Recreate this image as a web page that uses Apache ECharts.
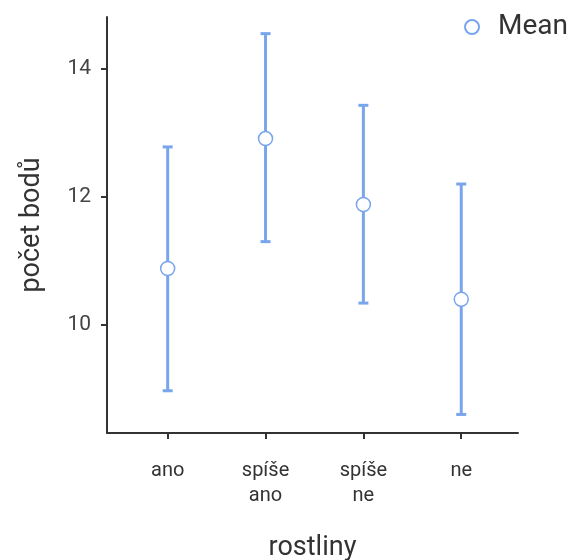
<!DOCTYPE html>
<html>
<head>
<meta charset="utf-8">
<script src="https://cdn.jsdelivr.net/npm/echarts@6/dist/echarts.min.js"></script>
<style>
  html, body { margin: 0; padding: 0; background: #fff; }
  #chart { width: 574px; height: 560px; }
</style>
</head>
<body>
<div id="chart"></div>
<script>
var categories = ['ano', 'spíše\nano', 'spíše\nne', 'ne'];
var means = [10.88, 12.91, 11.88, 10.40];
var upper = [12.78, 14.55, 13.43, 12.20];
var lower = [8.97, 11.30, 10.34, 8.60];
var yTicks = [10, 12, 14];
var xTicks = [1, 2, 3, 4];

var blue = '#78a5ec';
var font = 'Roboto';

var barData = [];
var meanData = [];
for (var i = 0; i < categories.length; i++) {
	barData.push([xTicks[i], lower[i], upper[i]]);
	meanData.push([xTicks[i], means[i]]);
}

function renderBar(params, api) {
	var x = api.value(0);
	var lo = api.coord([x, api.value(1)]);
	var hi = api.coord([x, api.value(2)]);
	var half = 5;
	var style = { stroke: blue, lineWidth: 3 };
	return {
		type: 'group',
		children: [
			{ type: 'line', shape: { x1: lo[0], y1: lo[1], x2: hi[0], y2: hi[1] }, style: style },
			{ type: 'line', shape: { x1: hi[0] - half, y1: hi[1], x2: hi[0] + half, y2: hi[1] }, style: style },
			{ type: 'line', shape: { x1: lo[0] - half, y1: lo[1], x2: lo[0] + half, y2: lo[1] }, style: style }
		]
	};
}

var option = {
	animation: false,
	textStyle: { fontFamily: font },
	legend: {
		data: ['Mean'],
		right: 1,
		top: 8,
		itemWidth: 14,
		itemHeight: 14,
		textStyle: { fontSize: 28, color: '#333', fontFamily: font, padding: [0, 0, 0, 14] }
	},
	grid: { left: 107, right: 56, top: 17, bottom: 127, outerBoundsMode: 'none' },
	xAxis: {
		type: 'value',
		min: 0.38,
		max: 4.58,
		name: 'rostliny',
		nameLocation: 'middle',
		nameGap: 102,
		nameTextStyle: { fontSize: 27, color: '#333', fontFamily: font },
		splitLine: { show: false },
		axisLine: { lineStyle: { color: '#333', width: 2 } },
		axisTick: { customValues: xTicks, length: 6, lineStyle: { color: '#333', width: 2 } },
		axisLabel: {
			customValues: xTicks,
			formatter: function (v) { return categories[v - 1]; },
			fontSize: 20,
			color: '#333',
			margin: 25,
			lineHeight: 25
		}
	},
	yAxis: {
		type: 'value',
		min: 8.31,
		max: 14.81,
		name: 'počet bodů',
		nameLocation: 'middle',
		nameGap: 61,
		nameRotate: 90,
		nameTextStyle: { fontSize: 27, color: '#333', fontFamily: font },
		splitLine: { show: false },
		axisLine: { show: true, lineStyle: { color: '#333', width: 2 } },
		axisTick: { show: true, customValues: yTicks, length: 6, lineStyle: { color: '#333', width: 2 } },
		axisLabel: { customValues: yTicks, fontSize: 21, color: '#444', margin: 16 }
	},
	series: [
		{
			name: 'bars',
			type: 'custom',
			renderItem: renderBar,
			data: barData,
			encode: { x: 0, y: [1, 2] },
			z: 2
		},
		{
			name: 'Mean',
			type: 'scatter',
			data: meanData,
			symbol: 'circle',
			symbolSize: 14,
			itemStyle: { color: '#fff', borderColor: blue, borderWidth: 1.5, opacity: 1 },
			z: 3
		}
	]
};

var myChart = echarts.init(document.getElementById('chart'));
myChart.setOption(option);
</script>
</body>
</html>
